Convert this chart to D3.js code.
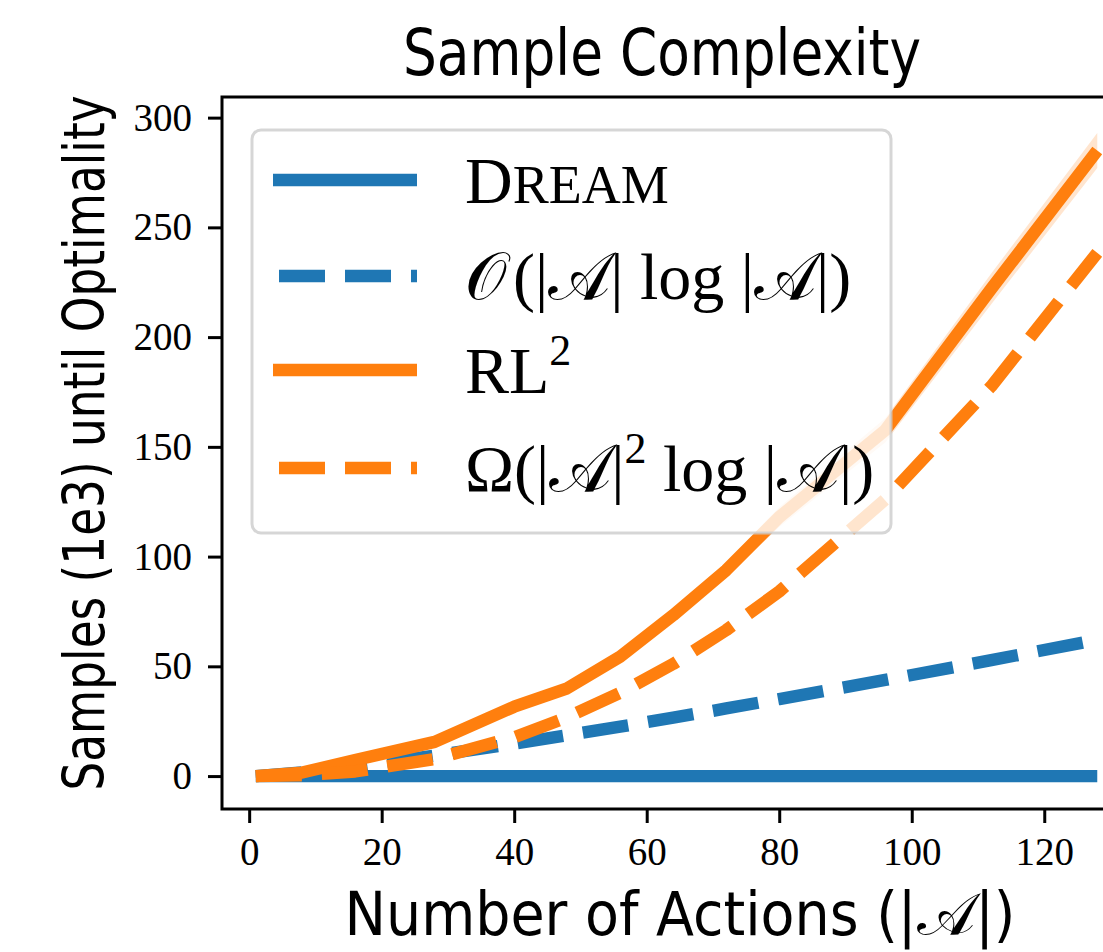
<!DOCTYPE html>
<html>
<head>
<meta charset="utf-8">
<script src="https://cdn.jsdelivr.net/npm/d3@7"></script>
<style>
	body { margin: 0; background: #fff; }
	svg { display: block; overflow: hidden; }
</style>
</head>
<body>
<script>
// * Data
const actions = [1, 8, 16, 28, 40, 48, 56, 64, 72, 80, 96, 112, 128];
const dream = [0, 0, 0, 0, 0, 0, 0, 0, 0, 0, 0, 0, 0];
const rl2 = [0, 1.6, 7.3, 15.6, 31.6, 40, 54.4, 73.3, 93.8, 118, 157.6, 222, 285];
const rl2Lo = [0, 1.3, 6.6, 14.6, 30.2, 38.4, 52.4, 70.6, 90.4, 113.5, 152, 215, 277];
const rl2Hi = [0, 1.9, 8.0, 16.6, 33.0, 41.6, 56.4, 76, 97.2, 122.5, 163, 229, 293];
const oBound = [0, 1.7, 4.4, 9.3, 14.8, 18.6, 22.5, 26.6, 30.8, 35.1, 43.8, 52.8, 62.1];
const omegaBound = [0, 0.4, 2.1, 7.8, 17.7, 26.8, 37.9, 51.1, 66.5, 84.1, 126, 177.6, 238.4];
const xTicks = [0, 20, 40, 60, 80, 100, 120];
const yTicks = [0, 50, 100, 150, 200, 250, 300];

// * Size & Margins
const width = 1103;
const height = 952;
const plot = { left: 222, right: 1139, top: 97, bottom: 809 };
const blue = "#1f77b4";
const orange = "#ff7f0e";
const lw = 12.4;
const dash = "46,20";
const serif = "'Liberation Serif', 'DejaVu Serif', serif";
const sans = "'DejaVu Sans Condensed', 'Liberation Sans Narrow', 'DejaVu Sans', sans-serif";

const svg = d3
	.select("body")
	.append("svg")
	.attr("width", width)
	.attr("height", height);

const x = d3.scaleLinear().domain([-4.1, 134.3]).range([plot.left, plot.right]);
const y = d3.scaleLinear().domain([-15, 309.4]).range([plot.bottom, plot.top]);

svg.append("clipPath")
	.attr("id", "clip")
	.append("rect")
	.attr("x", plot.left)
	.attr("y", plot.top)
	.attr("width", plot.right - plot.left)
	.attr("height", plot.bottom - plot.top);

const rows = actions.map((a, i) => ({
	a,
	dream: dream[i],
	rl2: rl2[i],
	lo: rl2Lo[i],
	hi: rl2Hi[i],
	o: oBound[i],
	om: omegaBound[i],
}));

// * PLOT
const g = svg.append("g").attr("clip-path", "url(#clip)");

g.append("path")
	.datum(rows)
	.attr("fill", orange)
	.attr("fill-opacity", 0.2)
	.attr("d", d3.area().x((d) => x(d.a)).y0((d) => y(d.lo)).y1((d) => y(d.hi)));

const series = [
	{ key: "dream", color: blue, dashed: false },
	{ key: "o", color: blue, dashed: true },
	{ key: "rl2", color: orange, dashed: false },
	{ key: "om", color: orange, dashed: true },
];

series.forEach((s) => {
	g.append("path")
		.datum(rows)
		.attr("fill", "none")
		.attr("stroke", s.color)
		.attr("stroke-width", lw)
		.attr("stroke-dasharray", s.dashed ? dash : null)
		.attr("stroke-linejoin", "round")
		.attr("d", d3.line().x((d) => x(d.a)).y((d) => y(d[s.key])));
});

// * AXES
const xAxis = svg.append("g")
	.attr("transform", `translate(0,${plot.bottom})`)
	.call(d3.axisBottom(x).tickValues(xTicks).tickSize(14).tickPadding(14));
const yAxis = svg.append("g")
	.attr("transform", `translate(${plot.left},0)`)
	.call(d3.axisLeft(y).tickValues(yTicks).tickSize(14).tickPadding(16));

[xAxis, yAxis].forEach((ax) => {
	ax.select(".domain").remove();
	ax.selectAll(".tick line").attr("stroke", "#000").attr("stroke-width", 3);
	ax.selectAll(".tick text")
		.attr("font-family", serif)
		.attr("font-size", 39)
		.attr("fill", "#000");
});

svg.append("rect")
	.attr("x", plot.left)
	.attr("y", plot.top)
	.attr("width", plot.right - plot.left)
	.attr("height", plot.bottom - plot.top)
	.attr("fill", "none")
	.attr("stroke", "#000")
	.attr("stroke-width", 3);

// * LEGEND
const legend = svg.append("g");
legend.append("rect")
	.attr("x", 252)
	.attr("y", 130)
	.attr("width", 639)
	.attr("height", 403)
	.attr("rx", 9)
	.attr("fill", "#fff")
	.attr("fill-opacity", 0.8)
	.attr("stroke", "#cccccc")
	.attr("stroke-opacity", 0.8)
	.attr("stroke-width", 3);

const rowY = [180, 276, 370, 468];
series.forEach((s, i) => {
	legend.append("line")
		.attr("x1", s.dashed ? 279 : 273)
		.attr("x2", 417)
		.attr("y1", rowY[i])
		.attr("y2", rowY[i])
		.attr("stroke", s.color)
		.attr("stroke-width", lw)
		.attr("stroke-dasharray", s.dashed ? dash : null);
});

function legendText(i) {
	return legend.append("text")
		.attr("x", 465)
		.attr("y", rowY[i] + 23)
		.attr("font-family", serif)
		.attr("font-size", 66)
		.attr("fill", "#000");
}

const t0 = legendText(0);
t0.append("tspan").text("D");
t0.append("tspan").attr("font-size", 54).text("REAM");

const t1 = legendText(1);
t1.append("tspan").text("𝒪");
t1.append("tspan").attr("dx", 6).text("(|");
t1.append("tspan").text("𝒜");
t1.append("tspan").text("| log |");
t1.append("tspan").text("𝒜");
t1.append("tspan").text("|)");

const t2 = legendText(2);
t2.append("tspan").text("RL");
t2.append("tspan").attr("font-size", 44).attr("dy", -28).text("2");

const t3 = legendText(3);
t3.append("tspan").text("Ω(|");
t3.append("tspan").text("𝒜");
t3.append("tspan").text("|");
t3.append("tspan").attr("font-size", 44).attr("dy", -28).text("2");
t3.append("tspan").attr("dy", 28).text(" log |");
t3.append("tspan").text("𝒜");
t3.append("tspan").text("|)");

// * TITLES
svg.append("text")
	.attr("x", 662)
	.attr("y", 75)
	.attr("text-anchor", "middle")
	.attr("font-family", sans)
	.attr("font-size", 64)
	.attr("textLength", 518)
	.attr("lengthAdjust", "spacingAndGlyphs")
	.text("Sample Complexity");

svg.append("text")
	.attr("x", 680)
	.attr("y", 935)
	.attr("text-anchor", "middle")
	.attr("font-family", sans)
	.attr("font-size", 60)
	.attr("textLength", 671)
	.attr("lengthAdjust", "spacingAndGlyphs")
	.text("Number of Actions (|𝒜|)");

svg.append("text")
	.attr("transform", "translate(104,443) rotate(-90)")
	.attr("text-anchor", "middle")
	.attr("font-family", sans)
	.attr("font-size", 57)
	.attr("textLength", 695)
	.attr("lengthAdjust", "spacingAndGlyphs")
	.text("Samples (1e3) until Optimality");
</script>
</body>
</html>
